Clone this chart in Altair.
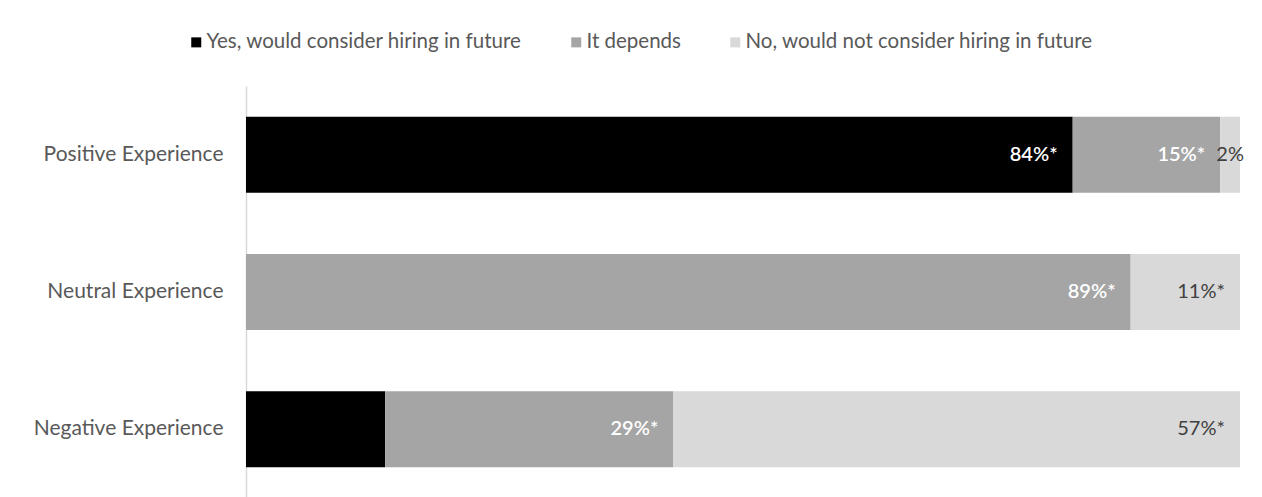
import altair as alt
import pandas as pd

# Survey responses by previous hiring experience (percent of respondents)
categories = ["Positive Experience", "Neutral Experience", "Negative Experience"]
series = [
    "Yes, would consider hiring in future",
    "It depends",
    "No, would not consider hiring in future",
]
yes_values = [84, 0, 14]
depends_values = [15, 89, 29]
no_values = [2, 11, 57]

# Value labels printed on the bars ("" = no label)
yes_labels = ["84%*", "", ""]
depends_labels = ["15%*", "89%*", "29%*"]
no_labels = ["2%", "11%*", "57%*"]

colors = ["#000000", "#A5A5A5", "#D9D9D9"]

rows = []
for i, cat in enumerate(categories):
    for j, (vals, labs) in enumerate(
        [(yes_values, yes_labels), (depends_values, depends_labels), (no_values, no_labels)]
    ):
        rows.append({"category": cat, "series": series[j], "order": j,
                     "value": vals[i], "label": labs[i]})
df = pd.DataFrame(rows)

FONT = "Lato"
GREY_TEXT = "#595959"
LIGHT_SERIES = series[2]

base = alt.Chart(df).transform_stack(
    stack="value",
    groupby=["category"],
    as_=["v0", "v1"],
    sort=[alt.SortField("order", order="ascending")],
    offset="normalize",
).transform_calculate(
    mid="(datum.v0 + datum.v1) / 2"
)

y_enc = alt.Y(
    "category:N",
    sort=categories,
    scale=alt.Scale(paddingInner=0.447, paddingOuter=0.2235),
    axis=alt.Axis(
        title=None, ticks=False, grid=False,
        domainColor="#D9D9D9", domainWidth=1.5,
        labelFont=FONT, labelFontSize=21, labelColor=GREY_TEXT,
        labelPadding=23, labelLimit=0,
    ),
)

x_scale = alt.Scale(domain=[0, 1], nice=False, zero=True)

bars = base.mark_bar(cornerRadius=0).encode(
    x=alt.X("v0:Q", scale=x_scale, axis=None),
    x2="v1:Q",
    y=y_enc,
    color=alt.Color(
        "series:N",
        scale=alt.Scale(domain=series, range=colors),
        sort=series,
        legend=alt.Legend(
            orient="none", legendX=-60, legendY=-54, direction="horizontal",
            title=None, symbolType="square", symbolSize=100,
            symbolStrokeWidth=0, labelFont=FONT, labelFontSize=20.5,
            labelColor=GREY_TEXT, columnPadding=44, padding=0, labelOffset=0,
            labelLimit=0,
        ),
    ),
)

y_plain = alt.Y("category:N", sort=categories)

# White labels on the dark segments, anchored at the inner end
white_labels = base.transform_filter(
    f"datum.label != '' && datum.value >= 5 && datum.series != '{LIGHT_SERIES}'"
).mark_text(
    align="right", baseline="middle", dx=-15, font=FONT, fontSize=20,
    fontWeight=600, color="#FFFFFF",
).encode(x=alt.X("v1:Q", scale=x_scale), y=y_plain, text="label:N")

# Dark labels on the light segments
dark_labels = base.transform_filter(
    f"datum.label != '' && datum.value >= 5 && datum.series == '{LIGHT_SERIES}'"
).mark_text(
    align="right", baseline="middle", dx=-15, font=FONT, fontSize=20,
    color="#404040",
).encode(x=alt.X("v1:Q", scale=x_scale), y=y_plain, text="label:N")

# Narrow segments get a centred label
mid_labels = base.transform_filter("datum.label != '' && datum.value < 5").mark_text(
    align="center", baseline="middle", font=FONT, fontSize=20, color="#404040",
).encode(x=alt.X("mid:Q", scale=x_scale), y=y_plain, text="label:N")

chart = alt.layer(bars, white_labels, dark_labels, mid_labels).properties(
    width=994,
    height=412,
    padding={"left": 246, "top": 86, "right": 22, "bottom": 0},
    autosize=alt.AutoSizeParams(type="none"),
    background="white",
).configure_view(strokeWidth=0, stroke=None)

chart.save("out.html", embed_options={"renderer": "svg", "actions": False})
